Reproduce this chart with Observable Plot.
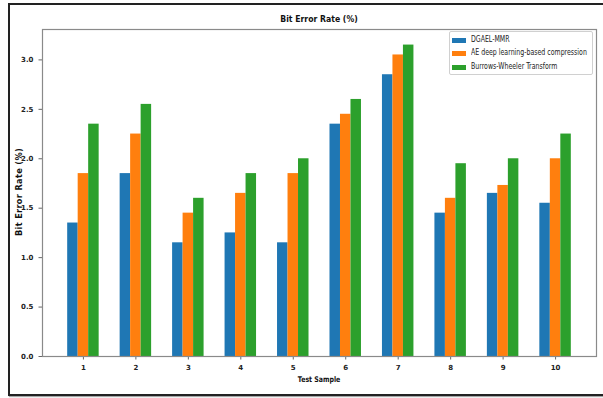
<!DOCTYPE html>
<html>
<head>
<meta charset="utf-8">
<script src="https://cdn.jsdelivr.net/npm/d3@7"></script>
<script src="https://cdn.jsdelivr.net/npm/@observablehq/plot@0.6"></script>
<style>
  html, body { margin: 0; padding: 0; background: #fff; }
  #wrap { position: relative; width: 603px; height: 398px; overflow: hidden; font-family: "DejaVu Sans", sans-serif; }
  #border { position: absolute; left: 8px; top: 3px; width: 700px; height: 389px; border: 2px solid #222; border-right: none; box-shadow: 1px 1px 1px rgba(0,0,0,0.35); }
  #chart { position: absolute; left: 0; top: 0; }
  .txt { position: absolute; white-space: nowrap; color: #111; }
  #title { left: 319px; top: 19px; font-size: 9px; font-weight: bold; transform: translate(-50%, -50%) scaleX(0.86); }
  #xlabel { left: 319px; top: 379px; font-size: 7.8px; font-weight: bold; transform: translate(-50%, -50%) scaleX(0.8); }
  #ylabel { left: 19px; top: 192px; font-size: 8.2px; font-weight: bold; transform: translate(-50%, -50%) rotate(-90deg); letter-spacing: 0.35px; }
  #legend { position: absolute; left: 449px; top: 31px; width: 144px; height: 44px; border: 1px solid #d0d0d0; border-radius: 2px; background: rgba(255,255,255,0.8); box-sizing: border-box; }
  .item { position: absolute; left: 2px; height: 10px; }
  .sw { position: absolute; left: 0; top: 2px; width: 14px; height: 5px; }
  .lab { position: absolute; left: 19px; top: -1px; font-size: 8px; color: #222; transform-origin: left center; transform: scaleX(0.78); white-space: nowrap; }
</style>
</head>
<body>
<div id="wrap">
  <div id="border"></div>
  <div id="chart"></div>
  <div id="title" class="txt">Bit Error Rate (%)</div>
  <div id="xlabel" class="txt">Test Sample</div>
  <div id="ylabel" class="txt">Bit Error Rate (%)</div>
  <div id="legend"></div>
</div>
<script>
const samples = [1, 2, 3, 4, 5, 6, 7, 8, 9, 10];
const seriesNames = ["DGAEL-MMR", "AE deep learning-based compression", "Burrows-Wheeler Transform"];
const dgael = [1.35, 1.85, 1.15, 1.25, 1.15, 2.35, 2.85, 1.45, 1.65, 1.55];
const ae    = [1.85, 2.25, 1.45, 1.65, 1.85, 2.45, 3.05, 1.60, 1.73, 2.00];
const bwt   = [2.35, 2.55, 1.60, 1.85, 2.00, 2.60, 3.15, 1.95, 2.00, 2.25];
const colors = ["#1f77b4", "#ff7f0e", "#2ca02c"];
const yTicks = [0.0, 0.5, 1.0, 1.5, 2.0, 2.5, 3.0];

const seriesValues = [dgael, ae, bwt];
const barWidth = 0.2;
const rows = [];
seriesValues.forEach((vals, si) => {
  vals.forEach((v, i) => {
    const center = samples[i] + (si - 1) * barWidth;
    rows.push({sample: samples[i], series: seriesNames[si], value: v, x1: center - barWidth / 2, x2: center + barWidth / 2});
  });
});

const chart = Plot.plot({
  width: 603,
  height: 398,
  marginLeft: 42,
  marginRight: 7,
  marginTop: 29,
  marginBottom: 42,
  style: { fontFamily: "DejaVu Sans, sans-serif", fontSize: "7px", fontWeight: "bold", color: "#222", background: "transparent" },
  x: { type: "linear", domain: [0.22, 10.78], label: null, ticks: samples, tickFormat: d => String(d), tickSize: 3.5 },
  y: { domain: [0, 3.3075], label: null, ticks: yTicks, tickFormat: d => d.toFixed(1), tickSize: 3.5 },
  color: { domain: seriesNames, range: colors },
  marks: [
    Plot.rectY(rows, { x1: "x1", x2: "x2", y: "value", fill: "series", insetLeft: 0, insetRight: 0 }),
    Plot.frame({ stroke: "#8a8a8a", strokeWidth: 1.2 })
  ]
});
chart.querySelectorAll("g[aria-label='x-axis tick'] path, g[aria-label='y-axis tick'] path").forEach(p => p.setAttribute("stroke", "#666"));
document.getElementById("chart").appendChild(chart);

const legend = document.getElementById("legend");
seriesNames.forEach((name, i) => {
  const it = document.createElement("div");
  it.className = "item";
  it.style.top = (4 + i * 13.3) + "px";
  const sw = document.createElement("div");
  sw.className = "sw";
  sw.style.background = colors[i];
  const lab = document.createElement("div");
  lab.className = "lab";
  lab.textContent = name;
  it.appendChild(sw);
  it.appendChild(lab);
  legend.appendChild(it);
});
</script>
</body>
</html>
